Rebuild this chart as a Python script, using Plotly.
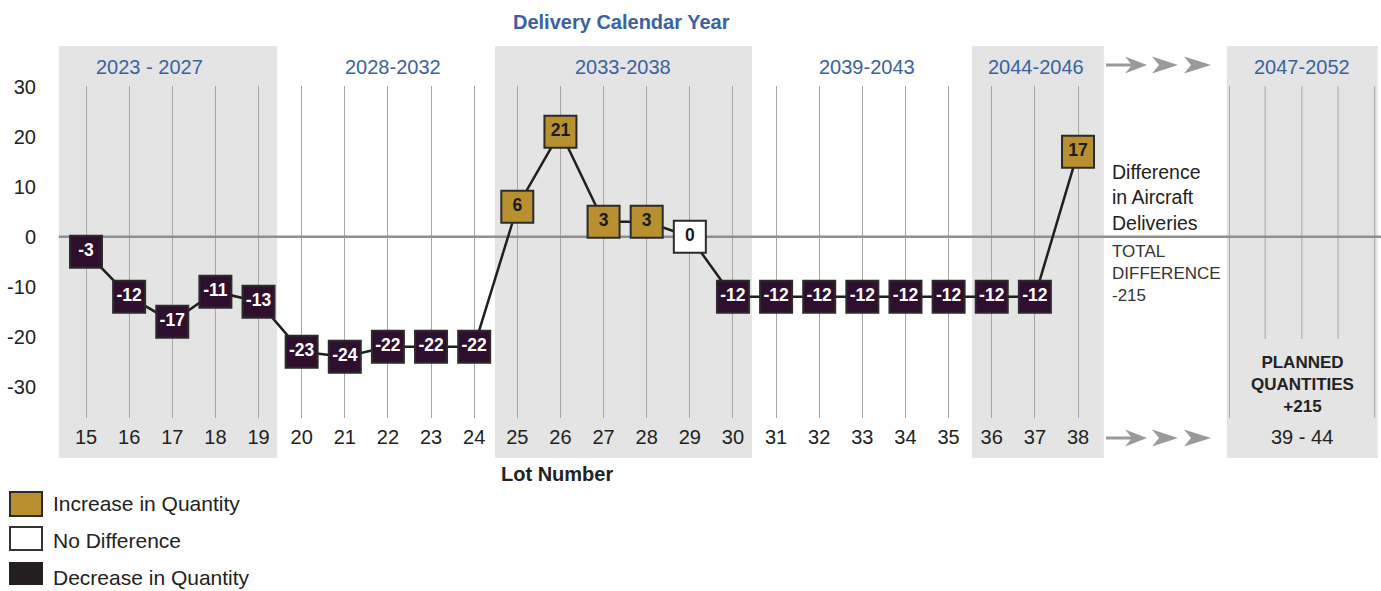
import plotly.graph_objects as go

# ---------------- data ----------------
lots = list(range(15, 39))
diff = [-3, -12, -17, -11, -13, -23, -24, -22, -22, -22,
        6, 21, 3, 3, 0,
        -12, -12, -12, -12, -12, -12, -12, -12, 17]
y_ticks = [30, 20, 10, 0, -10, -20, -30]

period_labels = ["2023 - 2027", "2028-2032", "2033-2038", "2039-2043", "2044-2046", "2047-2052"]
period_centers = [16.48, 22.11, 27.45, 33.11, 37.02, 43.2]
shaded_spans = [(14.37, 19.43), (24.48, 30.44), (35.54, 38.6), (41.45, 44.95)]

future_lot_label = "39 - 44"
future_center = 43.2
future_grid = [41.51, 42.34, 43.19, 44.03, 44.88]
future_grid_full = [True, False, False, False, True]
planned_total = 215

legend_labels = ["Increase in Quantity", "No Difference", "Decrease in Quantity"]

# ---------------- style ----------------
FONT = "Liberation Sans, Arial, sans-serif"
INC = "#b8902f"
NONE = "#ffffff"
DEC = "#2f0f2e"
LEG_DEC = "#231f20"
EDGE = "#2b2b2b"
BLUE = "#3b62a0"
SHADE = "#e4e4e4"
GRID = "#a6a6a6"
ARROW = "#9a9a9a"
TXT = "#222222"

W_FIG, H_FIG = 1381, 591
L, R, T, B = 40, 0, 86, 173
PW, PH = W_FIG - L - R, H_FIG - T - B


def px_x(p):
    return (p - L) / PW


def px_y(p):
    return (T + PH - p) / PH


marker_colors = [INC if v > 0 else (NONE if v == 0 else DEC) for v in diff]
text_colors = ["#ffffff" if v < 0 else "#1a1a1a" for v in diff]

fig = go.Figure()
fig.add_trace(go.Scatter(x=lots, y=diff, mode="lines",
                         line=dict(color="#1f1f1f", width=2.5),
                         hoverinfo="skip", showlegend=False))
fig.add_trace(go.Scatter(x=lots, y=diff, mode="markers+text",
                         marker=dict(symbol="square", size=32, color=marker_colors,
                                     line=dict(color=EDGE, width=2)),
                         text=[str(v) for v in diff], textposition="middle center",
                         textfont=dict(family=FONT, size=17.5, color=text_colors, weight="bold"),
                         cliponaxis=False, showlegend=False))

shapes = []
# shaded year bands
for x0, x1 in shaded_spans:
    shapes.append(dict(type="rect", xref="x", yref="paper", x0=x0, x1=x1,
                       y0=px_y(458), y1=px_y(46), fillcolor=SHADE,
                       line=dict(width=0), layer="below"))
# future-lot grid lines
for gx, full in zip(future_grid, future_grid_full):
    shapes.append(dict(type="line", xref="x", yref="paper", x0=gx, x1=gx,
                       y0=px_y(418 if full else 339), y1=px_y(86),
                       line=dict(color=GRID, width=1), layer="below"))
# zero line
shapes.append(dict(type="line", xref="x", yref="y", x0=shaded_spans[0][0], x1=45.1,
                   y0=0, y1=0, line=dict(color="#8f8f8f", width=2.5), layer="between"))


# arrows (top and bottom)
def head(back, tip, yc, hh=8.5, notch=7):
    return ("M {:.5f},{:.5f} L {:.5f},{:.5f} L {:.5f},{:.5f} L {:.5f},{:.5f} Z".format(
        px_x(back), px_y(yc - hh), px_x(tip), px_y(yc), px_x(back), px_y(yc + hh),
        px_x(back + notch), px_y(yc)))


for yc in (65, 438):
    shapes.append(dict(type="line", xref="paper", yref="paper", x0=px_x(1106), x1=px_x(1133),
                       y0=px_y(yc), y1=px_y(yc), line=dict(color=ARROW, width=3)))
    for b, t in ((1125, 1147), (1152, 1178), (1184, 1211)):
        shapes.append(dict(type="path", xref="paper", yref="paper", path=head(b, t, yc),
                           fillcolor=ARROW, line=dict(width=0)))

# legend boxes
leg_boxes = [(492, 516, INC, EDGE), (527, 550, NONE, "#333333"), (563, 584, LEG_DEC, LEG_DEC)]
for (y0, y1, fc, lc) in leg_boxes:
    shapes.append(dict(type="rect", xref="paper", yref="paper", x0=px_x(10), x1=px_x(42),
                       y0=px_y(y1), y1=px_y(y0), fillcolor=fc,
                       line=dict(color=lc, width=2)))

annotations = []
annotations.append(dict(text="Delivery Calendar Year", xref="paper", yref="paper",
                        x=px_x(621), y=px_y(22), yanchor="middle", showarrow=False,
                        font=dict(family=FONT, size=20, color=BLUE, weight="bold")))
for lab, cx in zip(period_labels, period_centers):
    annotations.append(dict(text=lab, xref="x", yref="paper", x=cx, y=px_y(67),
                            yanchor="middle", showarrow=False,
                            font=dict(family=FONT, size=20, color=BLUE)))
annotations.append(dict(text="Difference<br>in Aircraft<br>Deliveries", xref="paper", yref="paper",
                        x=px_x(1110), y=px_y(197), xanchor="left", yanchor="middle", align="left",
                        showarrow=False, font=dict(family=FONT, size=19.5, color=TXT)))
annotations.append(dict(text="TOTAL<br>DIFFERENCE<br>{}".format(sum(diff)), xref="paper", yref="paper",
                        x=px_x(1110), y=px_y(273), xanchor="left", yanchor="middle", align="left",
                        showarrow=False, font=dict(family=FONT, size=17, color="#333333")))
annotations.append(dict(text="PLANNED<br>QUANTITIES<br>+{}".format(planned_total), xref="x", yref="paper",
                        x=future_center, y=px_y(384), yanchor="middle", align="center",
                        showarrow=False, font=dict(family=FONT, size=17, color=TXT, weight="bold")))
annotations.append(dict(text=future_lot_label, xref="x", yref="paper", x=future_center, y=px_y(437),
                        yanchor="middle", showarrow=False,
                        font=dict(family=FONT, size=20, color=TXT)))
annotations.append(dict(text="Lot Number", xref="paper", yref="paper", x=px_x(557), y=px_y(474),
                        yanchor="middle", showarrow=False,
                        font=dict(family=FONT, size=20, color=TXT, weight="bold")))
for lab, yc in zip(legend_labels, (503, 540, 577)):
    annotations.append(dict(text=lab, xref="paper", yref="paper", x=px_x(51), y=px_y(yc),
                            xanchor="left", yanchor="middle", showarrow=False,
                            font=dict(family=FONT, size=21, color=TXT)))

fig.update_layout(
    width=W_FIG, height=H_FIG,
    margin=dict(l=L, r=R, t=T, b=B, pad=0),
    paper_bgcolor="white", plot_bgcolor="rgba(0,0,0,0)",
    showlegend=False,
    shapes=shapes, annotations=annotations,
    xaxis=dict(range=[13.9335, 45.025], tickvals=lots, ticktext=[str(v) for v in lots],
               showgrid=True, gridcolor=GRID, gridwidth=1, zeroline=False, showline=False,
               ticks="", tickfont=dict(family=FONT, size=20, color=TXT), ticklabelstandoff=5,
               fixedrange=True),
    yaxis=dict(range=[-36.26, 30.14], tickvals=y_ticks, ticktext=[str(v) for v in y_ticks],
               showgrid=False, zeroline=False, showline=False, ticks="",
               tickfont=dict(family=FONT, size=20, color=TXT), ticklabelstandoff=3,
               fixedrange=True),
)

fig.write_html("out.html", config={"displayModeBar": False},
               post_script="document.body.style.margin='0';document.body.style.overflow='hidden';")
